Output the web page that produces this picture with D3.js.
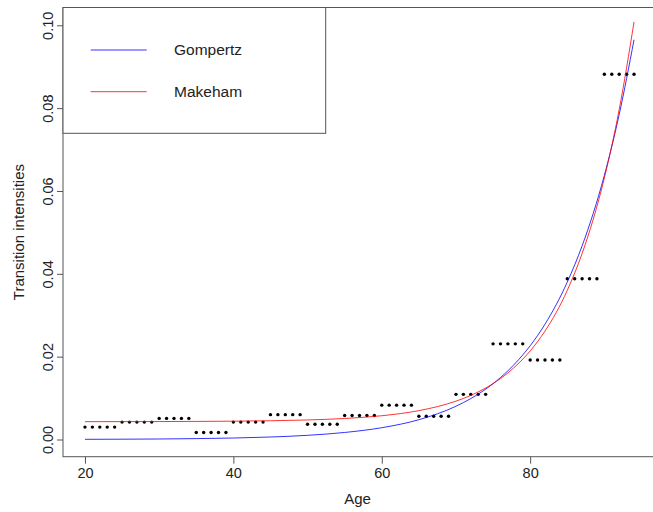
<!DOCTYPE html>
<html>
<head>
<meta charset="utf-8">
<script src="https://cdn.jsdelivr.net/npm/d3@7"></script>
<style>
  body { margin: 0; background: #fff; }
  text { font-family: "Liberation Sans", Arial, sans-serif; fill: #222; }
</style>
</head>
<body>
<div id="chart"></div>
<script>
// observed rates, one value per 5-year age group (dots at each single age)
const groupStart = [20, 25, 30, 35, 40, 45, 50, 55, 60, 65, 70, 75, 80, 85, 90];
const observed = [0.0030, 0.0042, 0.0051, 0.0017, 0.0042, 0.0060, 0.0037, 0.0058,
                  0.0083, 0.0056, 0.0109, 0.0231, 0.0192, 0.0388, 0.0882];

// fitted curves
const curveAges = [20, 25, 30, 35, 40, 45, 50, 55, 60, 65, 70, 72, 75, 77, 80, 82, 85, 87, 90, 92, 94];
const gompertz = [0.000045, 0.000076, 0.000127, 0.000214, 0.000359, 0.000603, 0.00101, 0.00170,
                  0.00285, 0.00478, 0.00803, 0.00988, 0.01348, 0.01659, 0.02263, 0.02784,
                  0.03799, 0.04674, 0.06377, 0.07846, 0.09652];
const makeham = [0.00431, 0.00432, 0.00434, 0.00437, 0.00442, 0.00453, 0.00472, 0.00508,
                 0.00574, 0.00697, 0.00926, 0.01065, 0.01350, 0.01608, 0.02138, 0.02617,
                 0.03600, 0.04490, 0.06314, 0.07966, 0.10080];

const xTicks = [20, 40, 60, 80];
const yTicks = [0, 0.02, 0.04, 0.06, 0.08, 0.10];
const legendNames = ["Gompertz", "Makeham"];
const legendColors = ["blue", "red"];

const svgWidth = 653;
const svgHeight = 512;
const margin = { top: 7.5, left: 63 };
const plotRight = 656;
const plotBottom = 456.7;

const svg = d3.select("#chart")
    .append("svg")
    .attr("width", svgWidth)
    .attr("height", svgHeight);

const xScale = d3.scaleLinear().domain([17.04, 96.96]).range([margin.left, plotRight]);
const yScale = d3.scaleLinear().domain([-0.00415, 0.1043]).range([plotBottom, margin.top]);

// x axis
svg.append("g")
    .attr("transform", "translate(0," + plotBottom + ")")
    .call(d3.axisBottom(xScale).tickValues(xTicks).tickSize(7).tickPadding(4).tickFormat(d3.format("d")))
    .call(g => {
        g.select(".domain").remove();
        g.selectAll("line").attr("stroke", "#555");
        g.selectAll("text")
            .attr("font-size", "14.5px")
            .attr("fill", "#222")
            .attr("font-family", "Liberation Sans, Arial, sans-serif");
    });

// y axis, labels rotated like base R
svg.append("g")
    .attr("transform", "translate(" + margin.left + ",0)")
    .call(d3.axisLeft(yScale).tickValues(yTicks).tickSize(6).tickFormat(d3.format(".2f")))
    .call(g => {
        g.select(".domain").remove();
        g.selectAll("line").attr("stroke", "#555");
        g.selectAll("text")
            .attr("font-size", "14.5px")
            .attr("fill", "#222")
            .attr("font-family", "Liberation Sans, Arial, sans-serif")
            .attr("text-anchor", "middle")
            .attr("dy", null)
            .attr("x", null)
            .attr("transform", "translate(-15,0) rotate(-90)")
            .attr("y", 0)
            .attr("dy", "0.35em");
    });

// box
svg.append("rect")
    .attr("x", margin.left)
    .attr("y", margin.top)
    .attr("width", plotRight - margin.left)
    .attr("height", plotBottom - margin.top)
    .attr("fill", "none")
    .attr("stroke", "#555")
    .attr("stroke-width", 1);

// axis titles
svg.append("text")
    .attr("x", (margin.left + plotRight) / 2 - 2)
    .attr("y", 504)
    .attr("text-anchor", "middle")
    .attr("font-size", "15px")
    .text("Age");

svg.append("text")
    .attr("transform", "translate(24," + ((margin.top + plotBottom) / 2) + ") rotate(-90)")
    .attr("text-anchor", "middle")
    .attr("font-size", "15px")
    .text("Transition intensities");

// observed dots
const dots = [];
groupStart.forEach((a, i) => {
    for (let k = 0; k < 5; k++) dots.push({ age: a + k, rate: observed[i] });
});

svg.append("g")
    .selectAll("circle")
    .data(dots)
    .enter()
    .append("circle")
    .attr("cx", d => xScale(d.age))
    .attr("cy", d => yScale(d.rate))
    .attr("r", 1.7)
    .attr("fill", "#000");

// fitted curves
const line = d3.line()
    .x(d => xScale(d[0]))
    .y(d => yScale(d[1]))
    .curve(d3.curveMonotoneX);

[gompertz, makeham].forEach((vals, i) => {
    svg.append("path")
        .datum(curveAges.map((a, j) => [a, vals[j]]))
        .attr("fill", "none")
        .attr("stroke", legendColors[i])
        .attr("stroke-opacity", 0.8)
        .attr("stroke-width", 1)
        .attr("d", line);
});

// legend
const legend = svg.append("g");
legend.append("rect")
    .attr("x", margin.left)
    .attr("y", margin.top)
    .attr("width", 262.7)
    .attr("height", 125.8)
    .attr("fill", "#fff")
    .attr("stroke", "#555")
    .attr("stroke-width", 1);

const legendY = [50, 91.7];
legendNames.forEach((name, i) => {
    legend.append("line")
        .attr("x1", 90.7)
        .attr("x2", 146.7)
        .attr("y1", legendY[i])
        .attr("y2", legendY[i])
        .attr("stroke", legendColors[i])
        .attr("stroke-opacity", 0.8)
        .attr("stroke-width", 1);
    legend.append("text")
        .attr("x", 174)
        .attr("y", legendY[i])
        .attr("dy", "0.35em")
        .attr("font-size", "15.5px")
        .text(name);
});
</script>
</body>
</html>
